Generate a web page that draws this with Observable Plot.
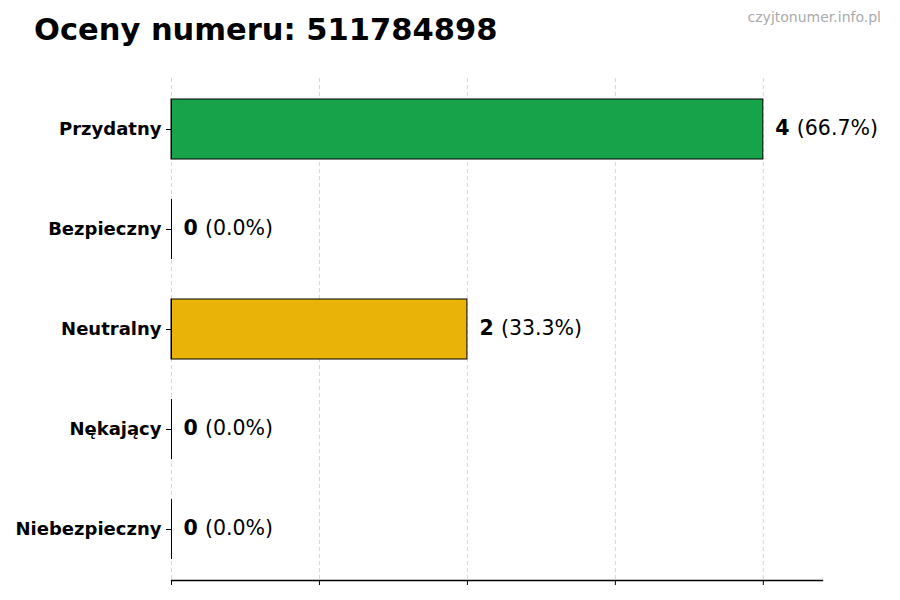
<!DOCTYPE html>
<html>
<head>
<meta charset="utf-8">
<script src="https://cdn.jsdelivr.net/npm/d3@7"></script>
<script src="https://cdn.jsdelivr.net/npm/@observablehq/plot@0.6"></script>
<style>
  html, body { margin: 0; padding: 0; background: #fff; }
  #wrap { position: relative; width: 900px; height: 600px; font-family: "DejaVu Sans", sans-serif; }
  #title { position: absolute; left: 34px; top: 12px; font-size: 30.5px; font-weight: bold; color: #000; white-space: nowrap; }
  #wm { position: absolute; right: 19px; top: 9px; font-size: 14px; color: #aaa; }
  #chart { position: absolute; left: 0; top: 0; }
</style>
</head>
<body>
<div id="wrap">
  <div id="chart"></div>
  <div id="title">Oceny numeru: 511784898</div>
  <div id="wm">czyjtonumer.info.pl</div>
</div>
<script>
const categories = ["Przydatny", "Bezpieczny", "Neutralny", "Nękający", "Niebezpieczny"];
const values = [4, 0, 2, 0, 0];
const colors = ["#16a34a", "#3b82f6", "#eab308", "#f97316", "#dc2626"];
const xTicks = [0, 1, 2, 3, 4];

const total = d3.sum(values);
const data = categories.map((c, i) => ({
  cat: c,
  value: values[i],
  color: colors[i],
  pct: "(" + (total ? (values[i] / total * 100) : 0).toFixed(1) + "%)"
}));

const chart = Plot.plot({
  width: 900,
  height: 600,
  marginTop: 78,
  marginBottom: 20,
  marginLeft: 171,
  marginRight: 78,
  style: { fontFamily: "DejaVu Sans, sans-serif", background: "transparent" },
  x: { domain: [0, 4.4], axis: null },
  y: { domain: categories, paddingInner: 0.4, paddingOuter: 0.2, axis: null },
  marks: [
    Plot.gridX(xTicks, { stroke: "#cccccc", strokeOpacity: 1, strokeDasharray: "4,3", strokeWidth: 0.8 }),
    Plot.barX(data, { x: "value", y: "cat", fill: "color", stroke: "#000", strokeWidth: 1 }),
    Plot.tickX(data, { x: 0, y: "cat", stroke: "#000", strokeWidth: 1 }),
    Plot.text(data, { x: "value", y: "cat", text: d => String(d.value), dx: 12, dy: -1, textAnchor: "start", fontWeight: "bold", fontSize: 20.5, fill: "#000" }),
    Plot.text(data, { x: "value", y: "cat", text: "pct", dx: 33.5, dy: -1, textAnchor: "start", fontSize: 20.5, fill: "#000" }),
    Plot.axisY({ tickSize: 5, tickPadding: 5, fontSize: 18, fontWeight: "bold", label: null, stroke: "#000", color: "#000" }),
    Plot.axisX(xTicks, { tickSize: 5, tickFormat: () => "", label: null, stroke: "#000" }),
    Plot.frame({ anchor: "bottom", stroke: "#000", strokeWidth: 1.3 })
  ]
});
document.getElementById("chart").appendChild(chart);
</script>
</body>
</html>
